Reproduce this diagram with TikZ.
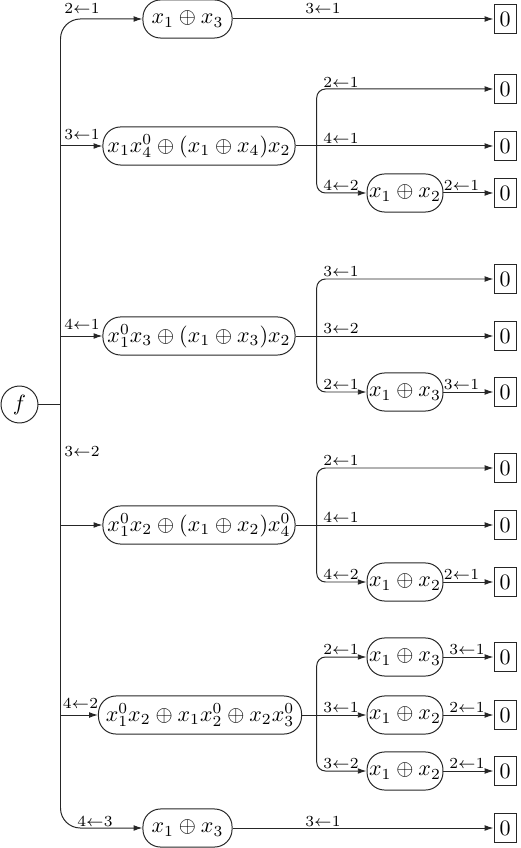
\documentclass[tikz,border=0pt]{standalone}
\usetikzlibrary{arrows.meta}
\begin{document}
\begin{tikzpicture}[x=0.4545pt,y=-0.4545pt,
  expr/.style={draw=black!85, rounded corners=8pt, minimum height=17.3pt, inner sep=0pt, line width=0.45pt},
  zero/.style={draw=black!85, minimum width=10pt, minimum height=13.2pt, inner sep=0pt, line width=0.45pt},
  fnode/.style={draw=black!85, circle, minimum size=16.8pt, inner sep=0pt, line width=0.45pt},
  lab/.style={font=\scriptsize, inner sep=0pt},
  arr/.style={draw=black!85, -{Latex[length=4pt,width=2.6pt]}, line width=0.45pt},
  plain/.style={draw=black!85, line width=0.45pt},
]
\useasboundingbox (0,0) rectangle (520,848);
% root
\node[fnode] (f) at (19.5,404.5) {$f$};
\coordinate (t) at (60.5,404.5);
% first level
\node[expr,minimum width=40.5pt] (a1) at (187.5,19) {$x_1\oplus x_3$};
\node[expr,minimum width=87.3pt] (a2) at (199,146) {$x_1x_4^0\oplus(x_1\oplus x_4)x_2$};
\node[expr,minimum width=87.3pt] (a3) at (199,336) {$x_1^0x_3\oplus(x_1\oplus x_3)x_2$};
\node[expr,minimum width=87.3pt] (a4) at (199,525) {$x_1^0x_2\oplus(x_1\oplus x_2)x_4^0$};
\node[expr,minimum width=92.3pt] (a5) at (200,715) {$x_1^0x_2\oplus x_1x_2^0\oplus x_2x_3^0$};
\node[expr,minimum width=40.5pt] (a6) at (187.5,828) {$x_1\oplus x_3$};
% second level
\node[expr,minimum width=34.5pt] (b2) at (405,193) {$x_1\oplus x_2$};
\node[expr,minimum width=34.5pt] (b3) at (405,392) {$x_1\oplus x_3$};
\node[expr,minimum width=34.5pt] (b4) at (405,582) {$x_1\oplus x_2$};
\node[expr,minimum width=34.5pt] (c1) at (405,657) {$x_1\oplus x_3$};
\node[expr,minimum width=34.5pt] (c2) at (405,715) {$x_1\oplus x_2$};
\node[expr,minimum width=34.5pt] (c3) at (405,771) {$x_1\oplus x_2$};
% leaves
\node[zero] (z1) at (505,19) {$0$};
\node[zero] (z2a) at (505,89) {$0$};
\node[zero] (z2b) at (505,146) {$0$};
\node[zero] (z2c) at (505,193) {$0$};
\node[zero] (z3a) at (505,279) {$0$};
\node[zero] (z3b) at (505,336) {$0$};
\node[zero] (z3c) at (505,392) {$0$};
\node[zero] (z4a) at (505,468) {$0$};
\node[zero] (z4b) at (505,525) {$0$};
\node[zero] (z4c) at (505,582) {$0$};
\node[zero] (z5a) at (505,657) {$0$};
\node[zero] (z5b) at (505,715) {$0$};
\node[zero] (z5c) at (505,771) {$0$};
\node[zero] (z6) at (505,828) {$0$};
% sub-forks
\coordinate (s2) at (316.7,146);
\coordinate (s3) at (316.7,336);
\coordinate (s4) at (316.7,525);
\coordinate (s5) at (316.7,715);
% main trunk
\draw[plain] (f) -- (t);
\draw[arr, rounded corners=9pt] (t) |- (a1);
\draw[arr, rounded corners=9pt] (t) |- (a6);
\draw[arr] (t |- a2) -- (a2);
\draw[arr] (t |- a3) -- (a3);
\draw[arr] (t |- a4) -- (a4);
\draw[arr] (t |- a5) -- (a5);
\draw[arr] (a1) -- (z1);
\draw[arr] (a6) -- (z6);
% group 2
\draw[arr] (a2) -- (z2b);
\draw[arr, rounded corners=4pt] (s2) |- (z2a);
\draw[arr, rounded corners=4pt] (s2) |- (b2);
\draw[arr] (b2) -- (z2c);
% group 3
\draw[arr] (a3) -- (z3b);
\draw[arr, rounded corners=4pt] (s3) |- (z3a);
\draw[arr, rounded corners=4pt] (s3) |- (b3);
\draw[arr] (b3) -- (z3c);
% group 4
\draw[arr] (a4) -- (z4b);
\draw[arr, rounded corners=4pt] (s4) |- (z4a);
\draw[arr, rounded corners=4pt] (s4) |- (b4);
\draw[arr] (b4) -- (z4c);
% group 5
\draw[arr] (a5) -- (c2);
\draw[arr, rounded corners=4pt] (s5) |- (c1);
\draw[arr, rounded corners=4pt] (s5) |- (c3);
\draw[arr] (c1) -- (z5a);
\draw[arr] (c2) -- (z5b);
\draw[arr] (c3) -- (z5c);
% labels, main trunk
\node[lab] (l1) at (82,9) {$2{\leftarrow}1$};
\node[lab] (l2) at (82,134.5) {$3{\leftarrow}1$};
\node[lab] (l3) at (82,325) {$4{\leftarrow}1$};
\node[lab] (l4) at (82,451.5) {$3{\leftarrow}2$};
\node[lab] (l5) at (80.5,704) {$4{\leftarrow}2$};
\node[lab] (l6) at (95,821.5) {$4{\leftarrow}3$};
\node[lab] (l7) at (323,9) {$3{\leftarrow}1$};
\node[lab] (l8) at (323,821.5) {$3{\leftarrow}1$};
% labels group 2
\node[lab] (m2a) at (341,82.5) {$2{\leftarrow}1$};
\node[lab] (m2b) at (341,139) {$4{\leftarrow}1$};
\node[lab] (m2c) at (341,186) {$4{\leftarrow}2$};
\node[lab] (m2d) at (461.5,186) {$2{\leftarrow}1$};
% labels group 3
\node[lab] (m3a) at (341,272) {$3{\leftarrow}1$};
\node[lab] (m3b) at (341,329) {$3{\leftarrow}2$};
\node[lab] (m3c) at (341,385) {$2{\leftarrow}1$};
\node[lab] (m3d) at (461.5,385) {$3{\leftarrow}1$};
% labels group 4
\node[lab] (m4a) at (341,461) {$2{\leftarrow}1$};
\node[lab] (m4b) at (341,518) {$4{\leftarrow}1$};
\node[lab] (m4c) at (341,575) {$4{\leftarrow}2$};
\node[lab] (m4d) at (461.5,575) {$2{\leftarrow}1$};
% labels group 5
\node[lab] (m5a) at (341,650) {$2{\leftarrow}1$};
\node[lab] (m5b) at (341,708) {$3{\leftarrow}1$};
\node[lab] (m5c) at (341,764) {$3{\leftarrow}2$};
\node[lab] (m5d) at (467,650) {$3{\leftarrow}1$};
\node[lab] (m5e) at (467,708) {$2{\leftarrow}1$};
\node[lab] (m5f) at (467,764) {$2{\leftarrow}1$};
\end{tikzpicture}
\end{document}
